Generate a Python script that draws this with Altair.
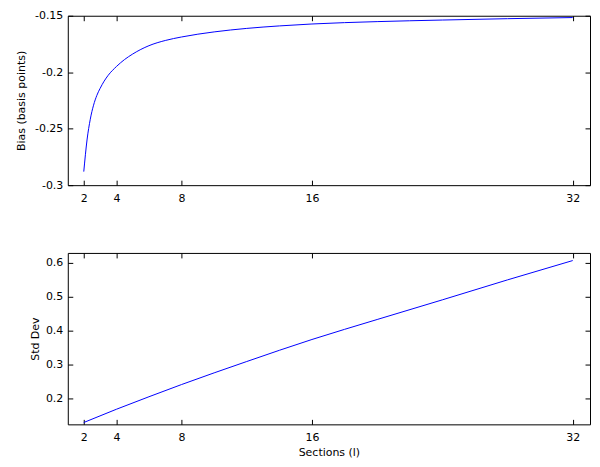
import altair as alt
import pandas as pd

x_ticks = [2, 4, 8, 16, 32]

bias_x = [2, 2.2, 2.4, 2.6, 2.8, 3, 3.25, 3.5, 4, 4.5, 5, 6, 7, 8,
          10, 12, 14, 16, 20, 24, 28, 32]
bias_y = [-0.288, -0.260, -0.2416, -0.2292, -0.2206, -0.2144, -0.2079, -0.2027,
          -0.1950, -0.1888, -0.1839, -0.1765, -0.1719, -0.1688,
          -0.1643, -0.1612, -0.1590, -0.1573, -0.1552, -0.1538, -0.1526, -0.1516]
bias_ticks = [-0.3, -0.25, -0.2, -0.15]
bias_domain = [-0.3, -0.15]

std_x = [2, 4, 6, 8, 12, 16, 20, 24, 28, 32]
std_y = [0.129, 0.168, 0.205, 0.241, 0.309, 0.374, 0.433, 0.491, 0.550, 0.607]
std_ticks = [0.2, 0.3, 0.4, 0.5, 0.6]
std_domain = [0.1235, 0.6295]

XDOM = [1.02, 33.06]
W = 524


def panel(xs, ys, ydom, yticks, ytitle, title_x, xtitle, h):
    df = pd.DataFrame({"x": xs, "y": ys})
    xscale = alt.Scale(domain=XDOM, nice=False, zero=False)
    yscale = alt.Scale(domain=ydom, nice=False, zero=False)
    common = dict(offset=-5, tickSize=5, domain=False, grid=False,
                  tickColor="black", tickWidth=1)
    xax = alt.Axis(values=x_ticks, orient="bottom", labelPadding=7, title=xtitle,
                   titlePadding=4, labelExpr="'' + datum.value", **common)
    yax = alt.Axis(values=yticks, orient="left", labelPadding=5, title=ytitle,
                   titleX=title_x, titleY=h / 2, titleAngle=270, titleAlign="center",
                   titleBaseline="middle", labelExpr="'' + datum.value", **common)
    line = alt.Chart(df).mark_line(color="#0000ff", strokeWidth=1,
                                   interpolate="monotone", clip=True).encode(
        x=alt.X("x:Q", scale=xscale, axis=xax),
        y=alt.Y("y:Q", scale=yscale, axis=yax),
    )
    mirror = alt.Chart(df).mark_line(opacity=0).encode(
        x=alt.X("x:Q", scale=xscale,
                axis=alt.Axis(values=x_ticks, orient="top", labels=False, title="", **common)),
        y=alt.Y("y:Q", scale=yscale,
                axis=alt.Axis(values=yticks, orient="right", labels=False, title="", **common)),
    )
    return alt.layer(line, mirror).resolve_axis(x="independent", y="independent").properties(
        width=W, height=h)


top = panel(bias_x, bias_y, bias_domain, bias_ticks, "Bias (basis points)", -51, "", 170)
bottom = panel(std_x, std_y, std_domain, std_ticks, "Std Dev", -37, "Sections (l)", 172)

chart = alt.vconcat(top, bottom, spacing=68, bounds="flush").properties(
    padding={"left": 7, "top": 0, "right": 1, "bottom": 2}
).configure_view(stroke="black", strokeWidth=1).configure_axis(
    labelFont="DejaVu Sans", labelFontSize=11, labelColor="black",
    titleFont="DejaVu Sans", titleFontSize=11, titleColor="black", titleFontWeight="normal",
)

chart.save("out.html", embed_options={"renderer": "svg", "actions": False})
